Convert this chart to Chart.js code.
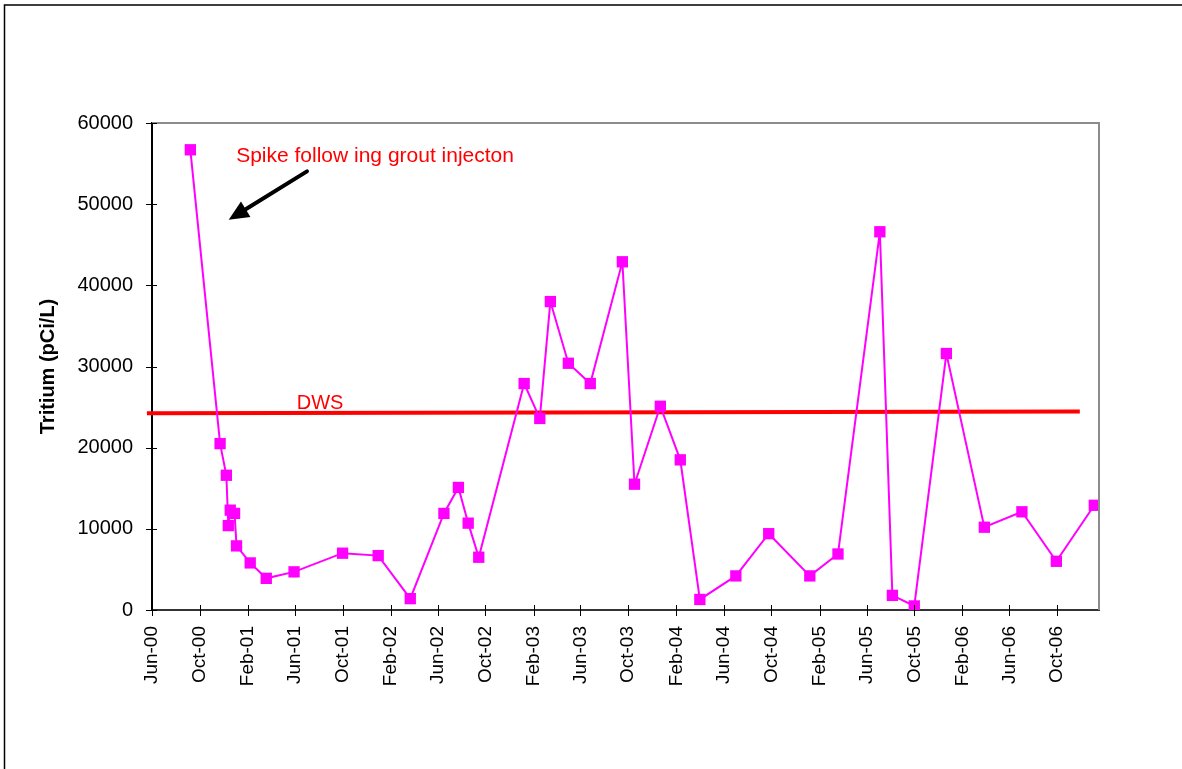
<!DOCTYPE html>
<html>
<head>
<meta charset="utf-8">
<script src="https://cdn.jsdelivr.net/npm/chart.js@4/dist/chart.umd.min.js"></script>
<style>
body{margin:0;background:#fff;}
#wrap{position:relative;width:1182px;height:769px;}
</style>
</head>
<body>
<div id="wrap"><canvas id="chart" width="1182" height="769"></canvas></div>
<script>
// sample dates and tritium results (pCi/L)
const sampleDates = ['2000-09-07','2000-11-22','2000-12-08','2000-12-13','2000-12-18','2000-12-29','2001-01-03',
'2001-02-07','2001-03-20','2001-05-30','2001-10-01','2001-12-31','2002-03-23','2002-06-17','2002-07-24',
'2002-08-18','2002-09-14','2003-01-08','2003-02-17','2003-03-16','2003-05-01','2003-06-26','2003-09-16',
'2003-10-17','2003-12-22','2004-02-11','2004-04-01','2004-07-02','2004-09-24','2005-01-07','2005-03-20',
'2005-07-05','2005-08-06','2005-10-01','2005-12-22','2006-03-29','2006-07-03','2006-09-29','2007-01-04'];
const tritium = [56700,20500,16600,10400,12300,11900,7900,5800,3900,4700,7000,6700,1400,11900,15100,10700,
6500,27900,23600,38000,30400,27900,42900,15500,25100,18500,1300,4200,9400,4200,6900,46600,1800,500,31600,
10200,12100,6000,12900];

// drinking water standard line
const dwsDates = ['2000-05-19','2006-11-28'];
const dwsValues = [24250,24450];

const tickLabels = ['Jun-00','Oct-00','Feb-01','Jun-01','Oct-01','Feb-02','Jun-02','Oct-02','Feb-03','Jun-03',
'Oct-03','Feb-04','Jun-04','Oct-04','Feb-05','Jun-05','Oct-05','Feb-06','Jun-06','Oct-06'];
const yTicks = [0,10000,20000,30000,40000,50000,60000];
const axisEnd = '2007-01-16';

const MONTHS = ['Jan','Feb','Mar','Apr','May','Jun','Jul','Aug','Sep','Oct','Nov','Dec'];
const T0 = Date.UTC(2000,5,1);
function dayOf(s){
  let p = s.split('-').map(Number);
  return (Date.UTC(p[0],p[1]-1,p[2]) - T0)/86400000;
}
function tickDay(lbl){
  let p = lbl.split('-');
  return (Date.UTC(2000+parseInt(p[1],10), MONTHS.indexOf(p[0]), 1) - T0)/86400000;
}
const tickDays = tickLabels.map(tickDay);

const FONT = "'Liberation Sans', Arial, sans-serif";

// annotation spots in data space (day, value)
const spikeText = {day:215, value:55250, text:'Spike follow ing grout injecton'};
const spikeArrow = {from:[396,54040], to:[196,48080]};
const dwsText = {day:370, value:24780, text:'DWS'};

const extras = {
  id:'extras',
  afterDraw(chart){
    const ctx = chart.ctx, a = chart.chartArea;
    const xs = chart.scales.x, ys = chart.scales.y;
    ctx.save();
    // outer frame
    ctx.strokeStyle = '#000'; ctx.lineWidth = 1.5;
    ctx.beginPath(); ctx.moveTo(4.5,769); ctx.lineTo(4.5,5); ctx.lineTo(1182,5); ctx.stroke();
    // plot area top/right border
    ctx.strokeStyle = '#8c8c8c'; ctx.lineWidth = 2;
    ctx.beginPath(); ctx.moveTo(a.left,a.top); ctx.lineTo(a.right,a.top); ctx.lineTo(a.right,a.bottom); ctx.stroke();
    // crossing tick marks
    ctx.strokeStyle = '#000'; ctx.lineWidth = 1;
    ctx.beginPath();
    tickDays.forEach(d=>{ let x = Math.round(xs.getPixelForValue(d))+0.5; ctx.moveTo(x,a.bottom-5); ctx.lineTo(x,a.bottom+6); });
    yTicks.forEach(v=>{ let y = Math.round(ys.getPixelForValue(v))+0.5; ctx.moveTo(a.left-6,y); ctx.lineTo(a.left+5,y); });
    ctx.stroke();
    // texts
    ctx.fillStyle = '#ff0000';
    ctx.font = '21px ' + FONT;
    ctx.textBaseline = 'alphabetic'; ctx.textAlign = 'left';
    ctx.fillText(spikeText.text, xs.getPixelForValue(spikeText.day), ys.getPixelForValue(spikeText.value));
    ctx.font = '20px ' + FONT;
    ctx.fillText(dwsText.text, xs.getPixelForValue(dwsText.day), ys.getPixelForValue(dwsText.value));
    // arrow
    let x1 = xs.getPixelForValue(spikeArrow.from[0]), y1 = ys.getPixelForValue(spikeArrow.from[1]);
    let x2 = xs.getPixelForValue(spikeArrow.to[0]), y2 = ys.getPixelForValue(spikeArrow.to[1]);
    let ang = Math.atan2(y2-y1, x2-x1);
    let hl = 20, hw = 9;
    let bx = x2 - hl*Math.cos(ang), by = y2 - hl*Math.sin(ang);
    ctx.strokeStyle = '#000'; ctx.fillStyle = '#000'; ctx.lineWidth = 4; ctx.lineCap = 'round';
    ctx.beginPath(); ctx.moveTo(x1,y1); ctx.lineTo(bx,by); ctx.stroke();
    ctx.beginPath();
    ctx.moveTo(x2,y2);
    ctx.lineTo(bx + hw*Math.sin(ang), by - hw*Math.cos(ang));
    ctx.lineTo(bx - hw*Math.sin(ang), by + hw*Math.cos(ang));
    ctx.closePath(); ctx.fill();
    ctx.restore();
  }
};

new Chart(document.getElementById('chart').getContext('2d'), {
  type:'line',
  data:{
    datasets:[{
      label:'DWS',
      data: dwsDates.map((d,i)=>({x:dayOf(d), y:dwsValues[i]})),
      borderColor:'#ff0000',
      borderWidth:4,
      pointRadius:0,
      clip:false,
      order:2
    },{
      label:'Tritium',
      data: sampleDates.map((d,i)=>({x:dayOf(d), y:tritium[i]})),
      borderColor:'#ff00ff',
      backgroundColor:'#ff00ff',
      borderWidth:2,
      pointStyle:'rect',
      pointRadius:8,
      pointBorderWidth:0,
      order:1
    }]
  },
  options:{
    responsive:false,
    animation:false,
    layout:{padding:{top:123, right:83, left:0, bottom:0}},
    plugins:{legend:{display:false}, tooltip:{enabled:false}},
    scales:{
      x:{
        type:'linear',
        min:0,
        max:dayOf(axisEnd),
        afterBuildTicks(s){ s.ticks = tickDays.map(v=>({value:v})); },
        afterFit(s){ s.height = 159; },
        grid:{display:false, drawTicks:true, tickLength:6},
        border:{display:true, color:'#333', width:2},
        ticks:{
          autoSkip:false, minRotation:90, maxRotation:90, padding:10,
          color:'#000', font:{family:FONT, size:19},
          callback:(v,i)=>tickLabels[i]
        }
      },
      y:{
        min:0, max:60000,
        afterBuildTicks(s){ s.ticks = yTicks.map(v=>({value:v})); },
        afterFit(s){ s.width = 152; },
        grid:{display:false, drawTicks:true, tickLength:6},
        border:{display:true, color:'#000', width:2},
        ticks:{padding:13, color:'#000', font:{family:FONT, size:20}, callback:v=>String(v)},
        title:{display:true, text:'Tritium (pCi/L)', color:'#000', padding:{top:36, bottom:0},
          font:{family:FONT, size:20, weight:'bold'}}
      }
    }
  },
  plugins:[extras]
});
</script>
</body>
</html>
